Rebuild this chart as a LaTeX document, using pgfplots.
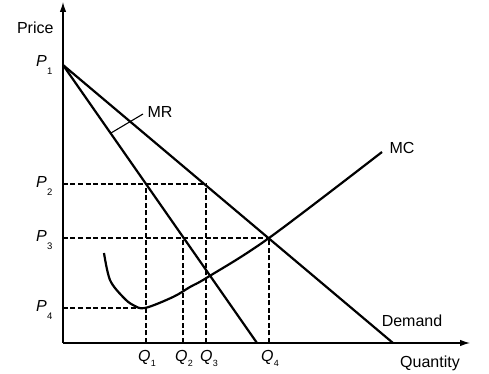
\documentclass[border=0pt]{standalone}
\usepackage{pgfplots}
\pgfplotsset{compat=1.18}
\usepackage{fontspec}
\setmainfont{Liberation Sans}
\usetikzlibrary{arrows.meta}
\newcommand{\psub}[1]{\kern0.3pt\raisebox{-7.5pt}{\fontsize{9.5}{10}\selectfont #1}}
\newcommand{\qsub}[1]{\kern0.5pt\raisebox{-5pt}{\fontsize{9}{10}\selectfont #1}}
\begin{document}
\begin{tikzpicture}[font=\fontsize{16}{19}\selectfont]
\useasboundingbox (-63pt,-31pt) rectangle (426pt,343pt);
\begin{axis}[scale only axis, width=407pt, height=341pt,
  xmin=0, xmax=407, ymin=0, ymax=341,
  axis lines=left,
  axis line style={line width=1.2pt, -{Latex[length=10pt,width=6.5pt]}},
  xtick=\empty, ytick=\empty, clip=false,
  every node/.style={inner sep=0pt}]
% Demand
\addplot[line width=2.2pt] coordinates {(0,278) (330,0)};
% MR
\addplot[line width=2.2pt] coordinates {(0,278) (194,0)};
% MC
\addplot[line width=2.2pt, smooth, tension=0.55] coordinates {(41,90) (47,63) (60,46) (70,38) (82,35) (110,46) (127,56) (145,66) (206,105) (319,191)};
% dashed guides
\addplot[line width=1.2pt, dash pattern=on 5pt off 2.5pt] coordinates {(0,159) (143,159)};
\addplot[line width=1.2pt, dash pattern=on 5pt off 2.5pt] coordinates {(0,105) (206,105)};
\addplot[line width=1.2pt, dash pattern=on 5pt off 2.5pt] coordinates {(0,35) (83,35)};
\addplot[line width=1.2pt, dash pattern=on 5pt off 2.5pt] coordinates {(83,0) (83,159)};
\addplot[line width=1.2pt, dash pattern=on 5pt off 2.5pt] coordinates {(120,0) (120,105)};
\addplot[line width=1.2pt, dash pattern=on 5pt off 2.5pt] coordinates {(143,0) (143,159)};
\addplot[line width=1.2pt, dash pattern=on 5pt off 2.5pt] coordinates {(206,0) (206,105)};
% MR leader
\addplot[line width=1.1pt] coordinates {(48,210) (80,229)};
% labels
\node[anchor=east] at (axis cs:-6,315) {Price};
\node[anchor=north] at (axis cs:367,-9) {Quantity};
\node at (axis cs:349,22) {Demand};
\node at (axis cs:339,195) {MC};
\node at (axis cs:97,231) {MR};
\node[anchor=base east] at (axis cs:-7,276) {\textit{P}\psub{1}};
\node[anchor=base east] at (axis cs:-7,155) {\textit{P}\psub{2}};
\node[anchor=base east] at (axis cs:-7,101) {\textit{P}\psub{3}};
\node[anchor=base east] at (axis cs:-7,31) {\textit{P}\psub{4}};
\node[anchor=base] at (axis cs:84,-19) {\textit{Q}\qsub{1}};
\node[anchor=base] at (axis cs:121,-19) {\textit{Q}\qsub{2}};
\node[anchor=base] at (axis cs:146,-19) {\textit{Q}\qsub{3}};
\node[anchor=base] at (axis cs:207,-19) {\textit{Q}\qsub{4}};
\end{axis}
\end{tikzpicture}
\end{document}
